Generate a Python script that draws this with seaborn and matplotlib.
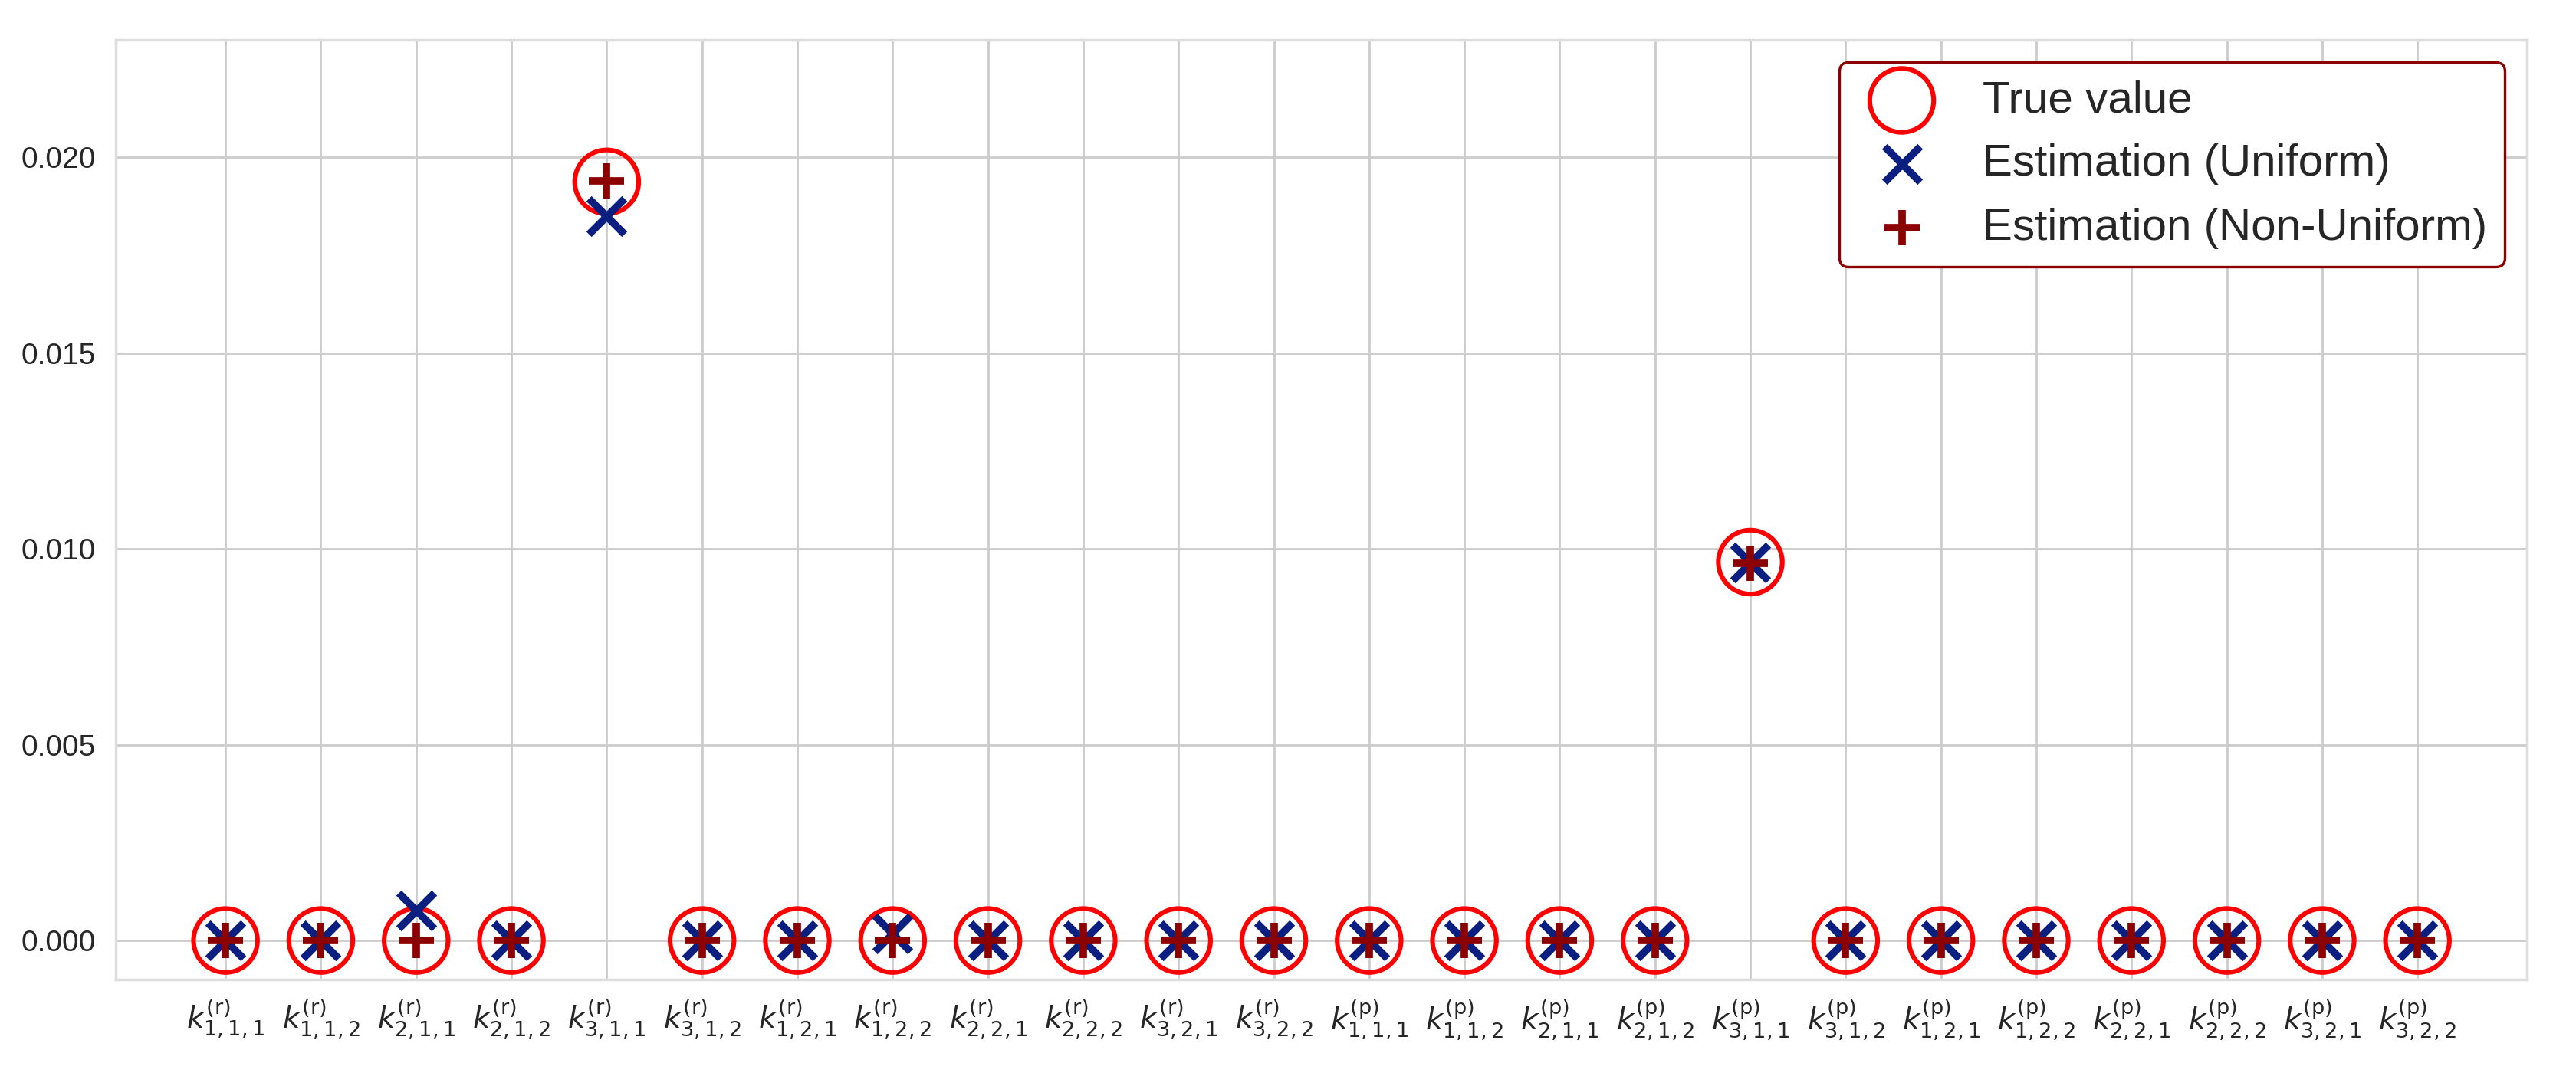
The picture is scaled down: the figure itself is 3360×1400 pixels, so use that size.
import matplotlib
matplotlib.use("Agg")
import matplotlib.pyplot as plt
import seaborn as sns
import pandas as pd

labels = [r"$k^{(\mathrm{r})}_{1,1,1}$", r"$k^{(\mathrm{r})}_{1,1,2}$", r"$k^{(\mathrm{r})}_{2,1,1}$", r"$k^{(\mathrm{r})}_{2,1,2}$",
          r"$k^{(\mathrm{r})}_{3,1,1}$", r"$k^{(\mathrm{r})}_{3,1,2}$", r"$k^{(\mathrm{r})}_{1,2,1}$", r"$k^{(\mathrm{r})}_{1,2,2}$",
          r"$k^{(\mathrm{r})}_{2,2,1}$", r"$k^{(\mathrm{r})}_{2,2,2}$", r"$k^{(\mathrm{r})}_{3,2,1}$", r"$k^{(\mathrm{r})}_{3,2,2}$",
          r"$k^{(\mathrm{p})}_{1,1,1}$", r"$k^{(\mathrm{p})}_{1,1,2}$", r"$k^{(\mathrm{p})}_{2,1,1}$", r"$k^{(\mathrm{p})}_{2,1,2}$",
          r"$k^{(\mathrm{p})}_{3,1,1}$", r"$k^{(\mathrm{p})}_{3,1,2}$", r"$k^{(\mathrm{p})}_{1,2,1}$", r"$k^{(\mathrm{p})}_{1,2,2}$",
          r"$k^{(\mathrm{p})}_{2,2,1}$", r"$k^{(\mathrm{p})}_{2,2,2}$", r"$k^{(\mathrm{p})}_{3,2,1}$", r"$k^{(\mathrm{p})}_{3,2,2}$"]
true_vals = [0, 0, 0, 0, 0.01937, 0, 0, 0, 0, 0, 0, 0,
             0, 0, 0, 0, 0.00966, 0, 0, 0, 0, 0, 0, 0]
est_uniform = [0, 0, 0.00076, 0, 0.0185, 0, 0, 0.00018, 0, 0, 0, 0,
               0, 0, 0, 0, 0.00965, 0, 0, 0, 0, 0, 0, 0]
est_nonuniform = [0, 0, 0, 0, 0.0194, 0, 0, 0, 0, 0, 0, 0,
                  0, 0, 0, 0, 0.00963, 0, 0, 0, 0, 0, 0, 0]

# true value hidden at k311(r)? (circle drawn), keep as is
sns.set_theme(style="whitegrid")
plt.rcParams['font.family'] = ['Liberation Sans', 'DejaVu Sans']

fig = plt.figure(figsize=(16.8, 7), dpi=200)
ax = fig.add_axes([0.045, 0.087, 0.936, 0.876])
x = list(range(len(labels)))
df = pd.DataFrame({"x": x, "t": true_vals, "u": est_uniform, "n": est_nonuniform})

sns.scatterplot(data=df, x="x", y="t", ax=ax, marker="o", s=900, facecolors="none",
                edgecolor="red", linewidth=2.2, label="True value", zorder=3)
sns.scatterplot(data=df, x="x", y="u", ax=ax, marker="x", s=280, color="#0a1f80",
                linewidth=3.5, label="Estimation (Uniform)", zorder=4)
sns.scatterplot(data=df, x="x", y="n", ax=ax, marker="+", s=280, color="#8b0000",
                linewidth=3.5, label="Estimation (Non-Uniform)", zorder=5)

ax.set_xticks(x)
ax.set_xticklabels(labels, fontsize=14)
ax.set_xlim(-1.15, 24.15)
ax.set_ylim(-0.001, 0.023)
ax.set_yticks([0, 0.005, 0.010, 0.015, 0.020])
ax.set_yticklabels(["0.000", "0.005", "0.010", "0.015", "0.020"], fontsize=14)
ax.set_xlabel("")
ax.set_ylabel("")
ax.tick_params(axis="x", pad=2)
for s in ax.spines.values():
    s.set_color("#dddddd")
leg = ax.legend(loc="upper right", fontsize=21, frameon=True, fancybox=True,
                edgecolor="#8b0000", framealpha=1, borderpad=0.4, handletextpad=0.8)
leg.get_frame().set_linewidth(1.2)
fig.savefig("out.png", dpi=200)
